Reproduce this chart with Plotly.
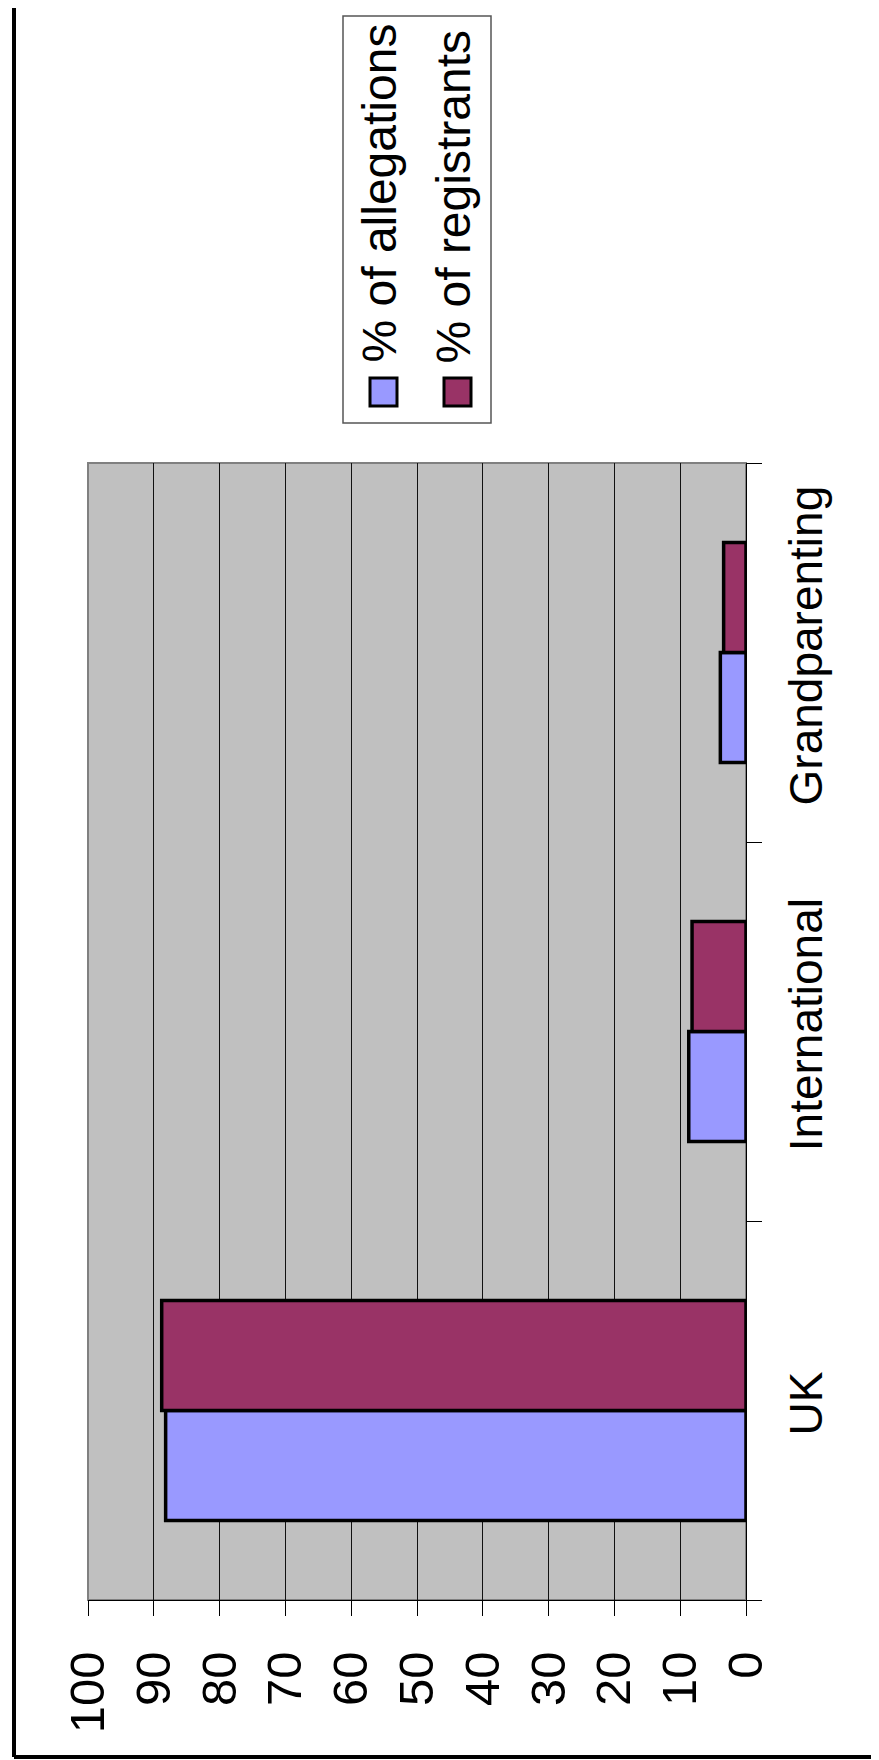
import plotly.graph_objects as go

categories = ["UK", "International", "Grandparenting"]
allegations = [88.2, 8.7, 3.9]
registrants = [88.8, 8.2, 3.4]
value_ticks = [0, 10, 20, 30, 40, 50, 60, 70, 80, 90, 100]
series_names = ["% of allegations", "% of registrants"]
series_colors = ["#9999FF", "#993366"]

W, H = 879, 1760
L, R, T, B = 80, 738, 455, 1592
FONT = "Liberation Sans, Arial, sans-serif"


def xp(px):
    return (px - L) / (R - L)


def yp(py):
    return (B - py) / (B - T)


fig = go.Figure()
for name, vals, col in zip(series_names, [allegations, registrants], series_colors):
    fig.add_trace(go.Bar(
        y=categories, x=vals, name=name, orientation="h",
        marker=dict(color=col, line=dict(color="black", width=3.5)),
        showlegend=False,
    ))

shapes = [
    # plot area border
    dict(type="rect", xref="paper", yref="paper", x0=0, x1=1, y0=0, y1=1,
         line=dict(color="#808080", width=2), layer="below"),
    # outer chart border (left and bottom visible)
    dict(type="line", xref="paper", yref="paper", x0=xp(6), x1=xp(6), y0=yp(1749), y1=yp(-5),
         line=dict(color="black", width=4)),
    dict(type="line", xref="paper", yref="paper", x0=xp(6), x1=xp(885), y0=yp(1749), y1=yp(1749),
         line=dict(color="black", width=4)),
    # legend box
    dict(type="rect", xref="paper", yref="paper", x0=xp(335), x1=xp(483), y0=yp(415), y1=yp(8),
         line=dict(color="#555555", width=1.5), fillcolor="white"),
]
annotations = []
sym_x = [362, 436]
text_x = [371, 445]
for i, (name, col) in enumerate(zip(series_names, series_colors)):
    shapes.append(dict(type="rect", xref="paper", yref="paper",
                       x0=xp(sym_x[i]), x1=xp(sym_x[i] + 27), y0=yp(398), y1=yp(370),
                       line=dict(color="black", width=3), fillcolor=col))
    annotations.append(dict(xref="paper", yref="paper", x=xp(text_x[i]), y=yp(357),
                            text=name, textangle=-90, showarrow=False,
                            xanchor="center", yanchor="bottom",
                            font=dict(family=FONT, size=48, color="black")))

fig.update_layout(
    width=W, height=H,
    margin=dict(l=L, r=W - R, t=T, b=H - B, pad=0),
    paper_bgcolor="white", plot_bgcolor="#C0C0C0",
    barmode="group", bargap=0.42, bargroupgap=0,
    shapes=shapes, annotations=annotations,
    font=dict(family=FONT, color="black"),
)
fig.update_xaxes(
    range=[100, 0], tickvals=value_ticks, ticktext=[str(v) for v in value_ticks],
    tickangle=-90, ticks="outside", ticklen=15, tickcolor="black", tickwidth=1,
    showgrid=True, gridcolor="#111111", gridwidth=1,
    showline=True, linecolor="black", linewidth=1, zeroline=False,
    tickfont=dict(family=FONT, size=49, color="black"),
    ticklabelstandoff=16,
)
fig.update_yaxes(
    side="right", tickangle=-90, tickson="boundaries", ticks="outside", ticklen=15,
    tickcolor="black", tickwidth=1, showgrid=False,
    showline=True, linecolor="black", linewidth=1,
    tickfont=dict(family=FONT, size=46, color="black"),
    ticklabelstandoff=20,
)
fig.write_html("out.html")
